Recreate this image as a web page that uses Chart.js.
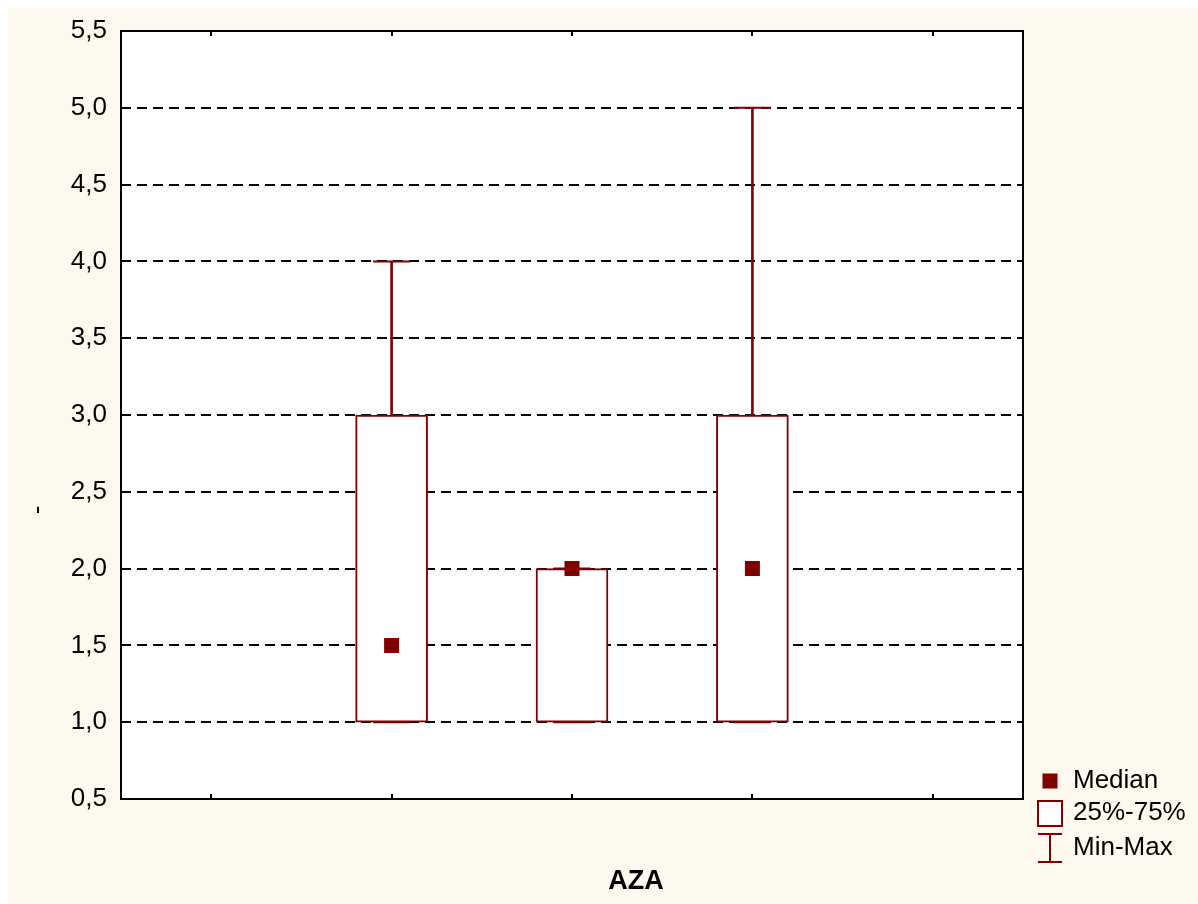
<!DOCTYPE html>
<html>
<head>
<meta charset="utf-8">
<title>AZA</title>
<script src="https://cdn.jsdelivr.net/npm/chart.js@4/dist/chart.umd.min.js"></script>
<style>
  html, body { margin: 0; padding: 0; background: #ffffff; overflow: hidden; }
  body { padding: 8px 0 0 8px; }
  canvas { display: block; }
</style>
</head>
<body>
<canvas id="c" width="1190" height="896"></canvas>
<script>
// Groups along the x axis (outer slots are empty)
const categories = ['', 'A', 'B', 'C', ''];
// Box-and-whisker statistics per group
const minValues    = [null, 1.0, 1.0, 1.0, null];
const q1Values     = [null, 1.0, 1.0, 1.0, null];
const medianValues = [null, 1.5, 2.0, 2.0, null];
const q3Values     = [null, 3.0, 2.0, 3.0, null];
const maxValues    = [null, 4.0, 2.0, 5.0, null];
// Axis text
const yTickValues = [0.5, 1.0, 1.5, 2.0, 2.5, 3.0, 3.5, 4.0, 4.5, 5.0, 5.5];
const yTickLabels = ['0,5', '1,0', '1,5', '2,0', '2,5', '3,0', '3,5', '4,0', '4,5', '5,0', '5,5'];
const xTitle = 'AZA';
const yTitle = '-';
const legendLabels = ['Median', '25%-75%', 'Min-Max'];

const RED = '#800000';
const CREAM = '#fdf9ee';
const FONT = '"Liberation Sans", Arial, sans-serif';

const pairs = (a, b) => a.map((v, i) => (v === null ? null : [v, b[i]]));

const framePlugin = {
  id: 'frame',
  beforeDraw(chart) {
    const { ctx, chartArea: a } = chart;
    ctx.save();
    ctx.fillStyle = CREAM;
    ctx.fillRect(0, 0, chart.width, chart.height);
    ctx.fillStyle = '#ffffff';
    ctx.fillRect(a.left, a.top, a.right - a.left, a.bottom - a.top);
    ctx.restore();
  },
  afterDraw(chart) {
    const { ctx, chartArea: a, scales } = chart;
    ctx.save();
    // plot frame
    ctx.strokeStyle = '#000';
    ctx.lineWidth = 2;
    ctx.strokeRect(a.left, a.top, a.right - a.left, a.bottom - a.top);
    // inward tick marks
    const tl = 5;
    ctx.beginPath();
    scales.x.ticks.forEach((t, i) => {
      const x = Math.round(scales.x.getPixelForTick(i));
      ctx.moveTo(x, a.bottom); ctx.lineTo(x, a.bottom - tl);
      ctx.moveTo(x, a.top); ctx.lineTo(x, a.top + tl);
    });
    scales.y.ticks.forEach((t, i) => {
      const y = Math.round(scales.y.getPixelForTick(i));
      ctx.moveTo(a.left, y); ctx.lineTo(a.left + tl, y);
      ctx.moveTo(a.right, y); ctx.lineTo(a.right - tl, y);
    });
    ctx.stroke();

    // axis titles
    ctx.fillStyle = '#000';
    ctx.font = 'bold 27px ' + FONT;
    ctx.textAlign = 'center';
    ctx.textBaseline = 'middle';
    ctx.fillText(xTitle, 628, 874);
    ctx.save();
    ctx.translate(30, 502);
    ctx.rotate(-Math.PI / 2);
    ctx.font = '26px ' + FONT;
    ctx.fillText(yTitle, 0, 0);
    ctx.restore();

    // legend
    const lx = a.right + 27;   // icon centre
    const tx = a.right + 50;   // text start
    const rows = [773, 805, 840];
    ctx.font = '26px ' + FONT;
    ctx.textAlign = 'left';
    ctx.textBaseline = 'middle';
    // median marker
    ctx.fillStyle = RED;
    ctx.fillRect(lx - 7.5, rows[0] - 7.5, 15, 15);
    // box
    ctx.strokeStyle = RED;
    ctx.lineWidth = 2;
    ctx.fillStyle = '#fff';
    ctx.fillRect(lx - 12, rows[1] - 12, 24, 25);
    ctx.strokeRect(lx - 12, rows[1] - 12, 24, 25);
    // whisker
    ctx.beginPath();
    ctx.moveTo(lx - 12, rows[2] - 14); ctx.lineTo(lx + 12, rows[2] - 14);
    ctx.moveTo(lx, rows[2] - 14); ctx.lineTo(lx, rows[2] + 14);
    ctx.moveTo(lx - 12, rows[2] + 14); ctx.lineTo(lx + 12, rows[2] + 14);
    ctx.stroke();
    ctx.fillStyle = '#000';
    legendLabels.forEach((s, i) => ctx.fillText(s, tx, rows[i]));
    ctx.restore();
  }
};

new Chart(document.getElementById('c'), {
  data: {
    labels: categories,
    datasets: [
      { // whisker stem min..max
        type: 'bar', data: pairs(minValues, maxValues),
        backgroundColor: RED, barThickness: 2, grouped: false, order: 4
      },
      { // whisker caps at the minimum
        type: 'line', data: minValues, showLine: false,
        pointStyle: 'line', pointRadius: 18.5, borderColor: RED, pointBorderWidth: 2, order: 3
      },
      { // interquartile box
        type: 'bar', data: pairs(q1Values, q3Values),
        backgroundColor: '#ffffff', borderColor: RED, borderWidth: 2, borderSkipped: false,
        barThickness: 72, grouped: false, order: 2
      },
      { // whisker caps at the maximum
        type: 'line', data: maxValues, showLine: false,
        pointStyle: 'line', pointRadius: 18.5, borderColor: RED, pointBorderWidth: 2, order: 1
      },
      { // median
        type: 'line', data: medianValues, showLine: false,
        pointStyle: 'rect', pointRadius: 10.6, backgroundColor: RED, borderColor: RED,
        pointBackgroundColor: RED, pointBorderWidth: 0, order: 0
      }
    ]
  },
  options: {
    responsive: false,
    animation: false,
    events: [],
    layout: { padding: { top: 23, right: 175, left: 0, bottom: 0 } },
    plugins: { legend: { display: false }, tooltip: { enabled: false } },
    scales: {
      x: {
        type: 'category',
        offset: true,
        grid: { display: false },
        border: { display: false },
        ticks: { callback: () => '' },
        afterFit(s) { s.height = 105; s.paddingLeft = 0; s.paddingRight = 0; }
      },
      y: {
        min: 0.5, max: 5.5,
        afterBuildTicks(s) { s.ticks = yTickValues.map(v => ({ value: v })); },
        grid: { color: '#000', lineWidth: 2, drawTicks: false },
        border: { display: false, dash: [10, 6] },
        ticks: {
          padding: 14, color: '#000',
          font: { family: FONT, size: 26 },
          callback: (v) => yTickLabels[yTickValues.indexOf(v)] ?? ''
        },
        afterFit(s) { s.width = 113; s.paddingTop = 0; s.paddingBottom = 0; }
      }
    }
  },
  plugins: [framePlugin]
});
</script>
</body>
</html>
